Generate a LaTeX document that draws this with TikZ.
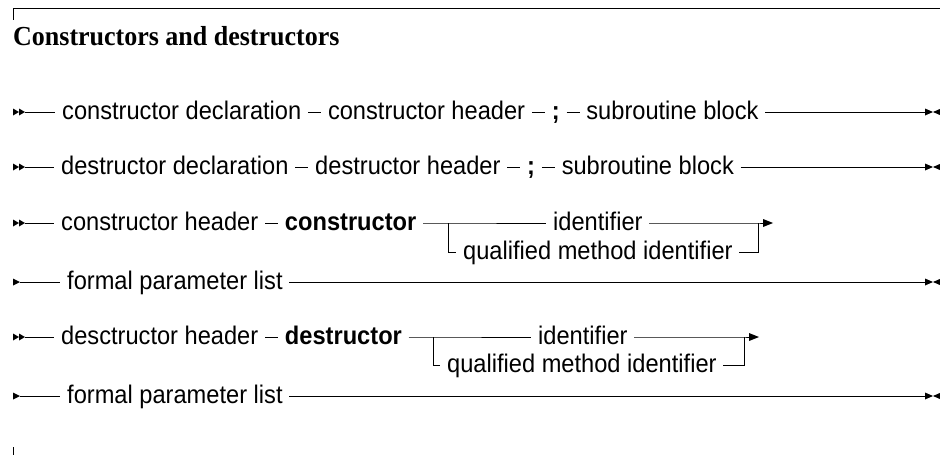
\documentclass[tikz,border=0pt]{standalone}
\usepackage{fontspec}
\setmainfont{Liberation Serif}
\setsansfont{Liberation Sans}
\newfontfamily\railsans[FakeStretch=0.927]{Liberation Sans}
\newfontfamily\titleserif[FakeStretch=0.945]{Liberation Serif}
\begin{document}
\begin{tikzpicture}[x=1pt,y=-1pt,
  term/.style={font=\railsans\fontsize{25.5}{30}\selectfont, inner xsep=6.6pt, inner ysep=0pt, text height=14pt, text depth=0pt, anchor=west},
  kw/.style={term, font=\railsans\bfseries\fontsize{25.5}{30}\selectfont},
  rail/.style={line width=0.8pt, line join=miter},
  titletext/.style={font=\titleserif\bfseries\fontsize{27.5}{32}\selectfont, inner sep=0pt, anchor=base west},
  framerule/.style={line width=1.2pt},
  dblstart/.pic={\fill (-12,-3.5) -- (-6,0) -- (-12,3.5) -- cycle; \fill (-6,-3.5) -- (0,0) -- (-6,3.5) -- cycle;},
  sglstart/.pic={\fill (-7,-3.5) -- (0,0) -- (-7,3.5) -- cycle;},
  railend/.pic={\fill (0,-3.5) -- (8,0) -- (0,3.5) -- cycle; \fill (16,-3.5) -- (8,0) -- (16,3.5) -- cycle;},
  railtip/.pic={\fill (0,-4) -- (10,0) -- (0,4) -- cycle;}
]
\useasboundingbox (0,0) rectangle (940,455);

% frame
\coordinate (f1) at (13,8.5);
\coordinate (f2) at (940,8.5);
\coordinate (f3) at (13,20);
\coordinate (f4) at (13,447);
\coordinate (f5) at (13,455);
\draw[framerule] (f1) -- (f2);
\draw[line width=0.8pt] (f1) -- (f3);
\draw[line width=0.8pt] (f4) -- (f5);

\node[titletext] (title) at (13,45) {Constructors and destructors};

% Row 1
\coordinate (s1) at (25,112);
\pic at (s1) {dblstart};
\node[term] (r1a) at (55.4,112) {constructor declaration};
\node[term] (r1b) at ([xshift=13.1pt]r1a.east) {constructor header};
\node[kw]   (r1c) at ([xshift=13.1pt]r1b.east) {;};
\node[term] (r1d) at ([xshift=13.1pt]r1c.east) {subroutine block};
\coordinate (e1) at (925,112);
\pic at (e1) {railend};
\draw[rail] (s1) -- (r1a);
\draw[rail] (r1a) -- (r1b);
\draw[rail] (r1b) -- (r1c);
\draw[rail] (r1c) -- (r1d);
\draw[rail] (r1d) -- (e1);

% Row 2
\coordinate (s2) at (25,167);
\pic at (s2) {dblstart};
\node[term] (r2a) at (54.4,167) {destructor declaration};
\node[term] (r2b) at ([xshift=13.1pt]r2a.east) {destructor header};
\node[kw]   (r2c) at ([xshift=13.1pt]r2b.east) {;};
\node[term] (r2d) at ([xshift=13.1pt]r2c.east) {subroutine block};
\coordinate (e2) at (925,167);
\pic at (e2) {railend};
\draw[rail] (s2) -- (r2a);
\draw[rail] (r2a) -- (r2b);
\draw[rail] (r2b) -- (r2c);
\draw[rail] (r2c) -- (r2d);
\draw[rail] (r2d) -- (e2);

% Row 3
\coordinate (s3) at (25,223);
\pic at (s3) {dblstart};
\node[term] (r3a) at (54.4,223) {constructor header};
\node[kw]   (r3b) at ([xshift=13.1pt]r3a.east) {constructor};
\coordinate (j3a) at (448,223);
\node[term] (r3c) at (546.4,223) {identifier};
\coordinate (j3b) at (758,223);
\coordinate (t3) at (763,223);
\pic at (t3) {railtip};
\coordinate (k3a) at (448,252);
\node[term] (r3q) at (456.4,252) {qualified method identifier};
\coordinate (k3b) at (758,252);
\draw[rail] (s3) -- (r3a);
\draw[rail] (r3a) -- (r3b);
\draw[rail] (r3b) -- (j3a) -- (r3c);
\draw[rail] (r3c) -- (j3b) -- (t3);
\draw[rail] (j3a) -- (k3a) -- (r3q);
\draw[rail] (r3q) -- (k3b) -- (j3b);

% Row 4
\coordinate (s4) at (20,282);
\pic at (s4) {sglstart};
\node[term] (r4a) at (60.4,282) {formal parameter list};
\coordinate (e4) at (925,282);
\pic at (e4) {railend};
\draw[rail] (s4) -- (r4a);
\draw[rail] (r4a) -- (e4);

% Row 5
\coordinate (s5) at (25,337);
\pic at (s5) {dblstart};
\node[term] (r5a) at (54.4,337) {desctructor header};
\node[kw]   (r5b) at ([xshift=13.1pt]r5a.east) {destructor};
\coordinate (j5a) at (433,337);
\node[term] (r5c) at (531.4,337) {identifier};
\coordinate (j5b) at (744,337);
\coordinate (t5) at (749,337);
\pic at (t5) {railtip};
\coordinate (k5a) at (433,365);
\node[term] (r5q) at (440.4,365) {qualified method identifier};
\coordinate (k5b) at (744,365);
\draw[rail] (s5) -- (r5a);
\draw[rail] (r5a) -- (r5b);
\draw[rail] (r5b) -- (j5a) -- (r5c);
\draw[rail] (r5c) -- (j5b) -- (t5);
\draw[rail] (j5a) -- (k5a) -- (r5q);
\draw[rail] (r5q) -- (k5b) -- (j5b);

% Row 6
\coordinate (s6) at (20,396);
\pic at (s6) {sglstart};
\node[term] (r6a) at (60.4,396) {formal parameter list};
\coordinate (e6) at (925,396);
\pic at (e6) {railend};
\draw[rail] (s6) -- (r6a);
\draw[rail] (r6a) -- (e6);
\end{tikzpicture}
\end{document}
